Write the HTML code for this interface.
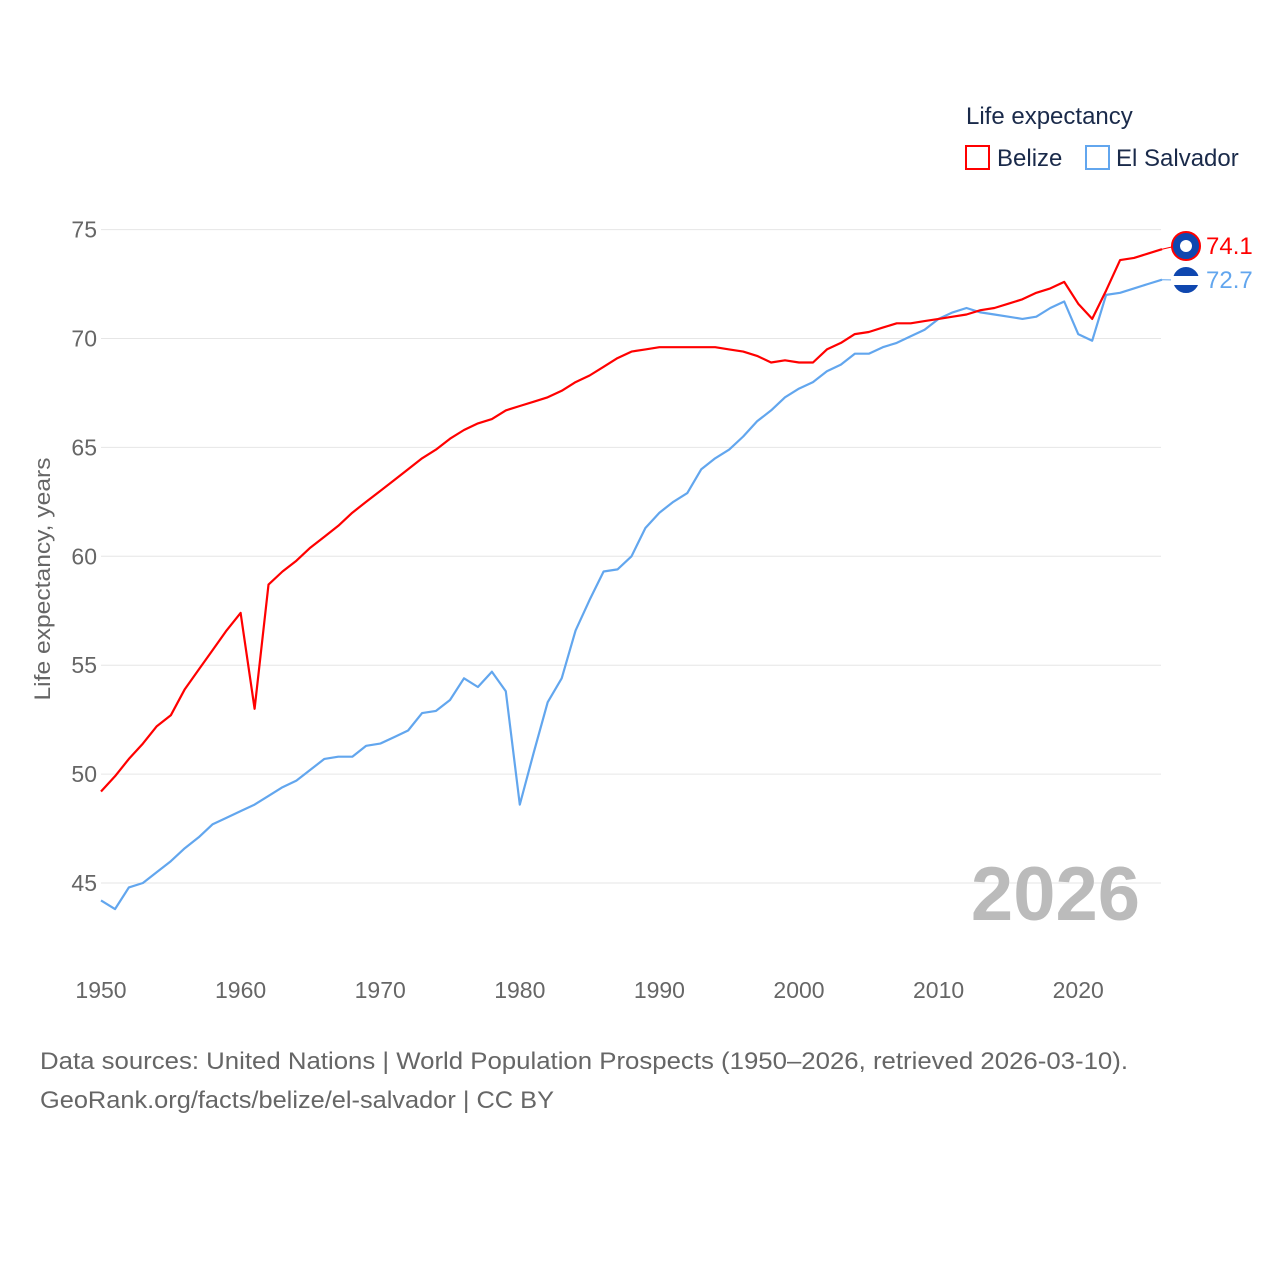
<!DOCTYPE html>
<html><head><meta charset="utf-8"><style>
body{margin:0;background:#fff;font-family:"Liberation Sans",sans-serif}
svg text{font-family:"Liberation Sans",sans-serif}
</style></head><body>
<svg id="chart" width="1280" height="1280" viewBox="0 0 1280 1280">
<text x="966" y="124" font-size="24" fill="#1a2a4a">Life expectancy</text>
<g><rect x="966" y="146" width="23" height="23" fill="none" stroke="#f00" stroke-width="2"/><text x="997" y="166" font-size="24" fill="#1a2a4a">Belize</text></g>
<g><rect x="1086" y="146" width="23" height="23" fill="none" stroke="#62a6ee" stroke-width="2"/><text x="1116" y="166" font-size="24" fill="#1a2a4a">El Salvador</text></g>
<g id="grid"></g><g id="xt"></g>
<text transform="translate(50,579) rotate(-90)" text-anchor="middle" font-size="22" fill="#666" textLength="243" lengthAdjust="spacingAndGlyphs">Life expectancy, years</text>
<text x="1140" y="920" text-anchor="end" font-size="76" font-weight="bold" fill="#bbb">2026</text>
<g id="series"></g>
<text x="40" y="1069" font-size="24" fill="#666" textLength="1088" lengthAdjust="spacingAndGlyphs">Data sources: United Nations | World Population Prospects (1950–2026, retrieved 2026-03-10).</text>
<text x="40" y="1108" font-size="24" fill="#666" textLength="514" lengthAdjust="spacingAndGlyphs">GeoRank.org/facts/belize/el-salvador | CC BY</text>
</svg>
<script>
const startYear=1950;
const yTicks=[45,50,55,60,65,70,75];
const xTicks=[1950,1960,1970,1980,1990,2000,2010,2020];
const belize=[49.2,49.9,50.7,51.4,52.2,52.7,53.9,54.8,55.7,56.6,57.4,53.0,58.7,59.3,59.8,60.4,60.9,61.4,62.0,62.5,63.0,63.5,64.0,64.5,64.9,65.4,65.8,66.1,66.3,66.7,66.9,67.1,67.3,67.6,68.0,68.3,68.7,69.1,69.4,69.5,69.6,69.6,69.6,69.6,69.6,69.5,69.4,69.2,68.9,69.0,68.9,68.9,69.5,69.8,70.2,70.3,70.5,70.7,70.7,70.8,70.9,71.0,71.1,71.3,71.4,71.6,71.8,72.1,72.3,72.6,71.6,70.9,72.2,73.6,73.7,73.9,74.1];
const elSalvador=[44.2,43.8,44.8,45.0,45.5,46.0,46.6,47.1,47.7,48.0,48.3,48.6,49.0,49.4,49.7,50.2,50.7,50.8,50.8,51.3,51.4,51.7,52.0,52.8,52.9,53.4,54.4,54.0,54.7,53.8,48.6,51.0,53.3,54.4,56.6,58.0,59.3,59.4,60.0,61.3,62.0,62.5,62.9,64.0,64.5,64.9,65.5,66.2,66.7,67.3,67.7,68.0,68.5,68.8,69.3,69.3,69.6,69.8,70.1,70.4,70.9,71.2,71.4,71.2,71.1,71.0,70.9,71.0,71.4,71.7,70.2,69.9,72.0,72.1,72.3,72.5,72.7];
const NS="http://www.w3.org/2000/svg";
const X=yr=>101+(yr-1950)*13.96;
const Y=v=>883-(v-45)*21.78;
function mk(t,a,p){const e=document.createElementNS(NS,t);for(const k in a)e.setAttribute(k,a[k]);p.appendChild(e);return e;}
const grid=document.getElementById('grid');
yTicks.forEach(v=>{
 const l=mk('line',{x1:101,x2:1161,y1:Y(v),y2:Y(v),stroke:'#e6e6e6','stroke-width':1},grid);
 
 
 const t=mk('text',{x:97,y:Y(v)+8,'text-anchor':'end','font-size':23,fill:'#666'},grid);t.textContent=v;
 
 
});
const xt=document.getElementById('xt');
xTicks.forEach(yr=>{
 const t=mk('text',{x:X(yr),y:998,'text-anchor':'middle','font-size':23,fill:'#666'},xt);t.textContent=yr;
 
 
});
const sg=document.getElementById('series');
function line(arr,col,name,fy,label){
 const d=arr.map((v,i)=>(i?'L':'M')+X(startYear+i).toFixed(1)+','+Y(v).toFixed(1)).join('');
 const p=mk('path',{d:d,fill:'none',stroke:col,'stroke-width':2.2,'stroke-linejoin':'round'},sg);
 
 
 const last=arr[arr.length-1],lx=X(startYear+arr.length-1);
 mk('line',{x1:lx,y1:Y(last),x2:1176,y2:fy,stroke:col,'stroke-width':1},sg);
 const c=mk('circle',{cx:1186,cy:fy,r:14,fill:'#0f47af',stroke:col==='#f00'?'#f00':'#fff','stroke-width':2},sg);
 
 
 if(col!=='#f00'){mk('rect',{x:1173,y:fy-4,width:26,height:9,fill:'#fff'},sg);}
 else{mk('circle',{cx:1186,cy:fy,r:6,fill:'#fff'},sg);}
 const t=mk('text',{x:1206,y:fy+8,'font-size':24,fill:col},sg);t.textContent=label;
 
 
}
line(elSalvador,'#62a6ee','el-salvador',280,elSalvador[elSalvador.length-1].toFixed(1));
line(belize,'#f00','belize',246,belize[belize.length-1].toFixed(1));
</script>
</body></html>
